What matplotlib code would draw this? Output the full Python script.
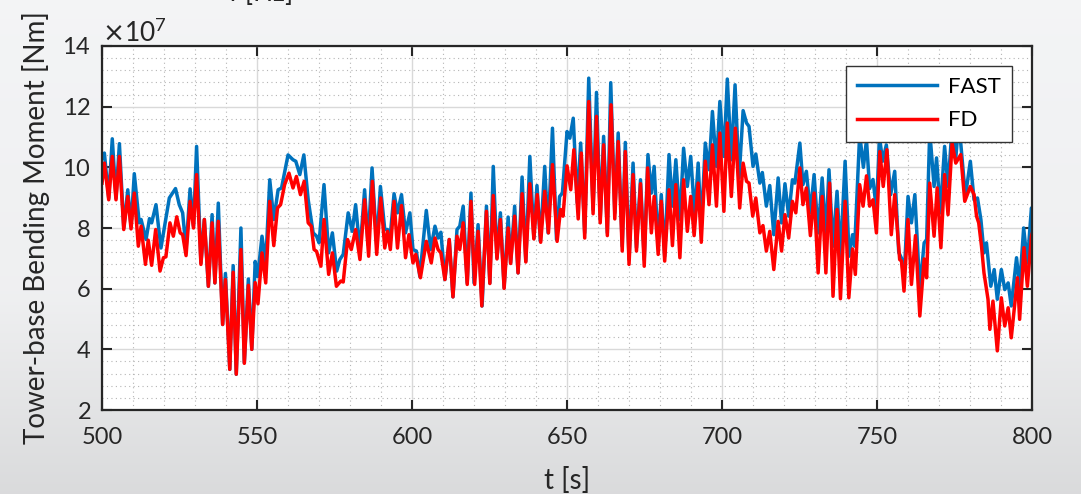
import numpy as np
import matplotlib
matplotlib.use("Agg")
import matplotlib.pyplot as plt
from matplotlib.ticker import AutoMinorLocator, ScalarFormatter

plt.rcParams["font.family"] = ["Lato", "DejaVu Sans"]

# Tower-base bending moment, values in 1e7 Nm (peaks/troughs)
fast_t = [500.0, 500.75, 502.15, 503.3, 504.5, 505.6, 507.0, 508.3, 509.35, 510.4,
          512.0, 512.6, 514.2, 515.3, 516.0, 517.4, 519.0, 521.7, 523.7, 524.9,
          526.0, 527.1, 528.4, 529.5, 530.5, 531.9, 533.0, 534.3, 535.5, 536.4,
          537.5, 538.9, 539.8, 541.2, 542.3, 543.3, 544.8, 545.9, 547.2, 548.3,
          549.4, 550.2, 551.6, 552.8, 554.1, 555.4, 556.8, 557.9, 560.0, 561.6,
          562.5, 563.8, 565.1, 566.5, 568.1, 569.2, 570.0, 571.6, 573.1, 574.3,
          575.7, 576.7, 577.8, 579.4, 580.7, 581.8, 583.2, 584.7, 585.8, 587.1,
          588.6, 589.8, 591.2, 592.1, 592.8, 594.2, 595.3, 596.6, 597.9, 599.3,
          600.3, 601.4, 602.5, 604.6, 606.0, 607.4, 608.4, 609.3, 610.6, 612.0,
          613.2, 614.5, 615.4, 616.5, 617.8, 619.0, 620.0, 621.3, 622.6, 624.0,
          625.1, 626.2, 627.4, 628.5, 629.7, 631.0, 631.8, 633.1, 634.2, 635.5,
          636.7, 638.0, 639.3, 640.3, 641.4, 642.8, 643.9, 645.3, 646.6, 647.6,
          648.5, 650.0, 650.9, 652.0, 653.3, 654.4, 655.7, 657.0, 658.4, 659.5,
          660.7, 661.8, 663.0, 664.1, 665.4, 666.5, 667.8, 668.8, 670.0, 671.3,
          672.4, 673.7, 674.9, 676.1, 677.2, 678.1, 679.4, 680.4, 681.5, 682.9,
          684.0, 685.1, 686.4, 687.6, 688.8, 689.9, 691.2, 692.3, 693.3, 694.6,
          695.8, 696.9, 698.2, 699.3, 700.6, 701.7, 703.0, 704.2, 705.5, 706.8,
          707.9, 708.7, 710.0, 710.9, 712.2, 713.0, 714.3, 715.4, 716.7, 718.1,
          719.2, 720.3, 721.5, 722.7, 723.5, 725.1, 726.1, 727.2, 728.5, 729.7,
          731.0, 732.3, 733.5, 734.5, 735.8, 737.1, 738.2, 739.7, 741.0, 742.1,
          742.8, 744.4, 745.6, 746.6, 747.6, 748.7, 749.8, 750.8, 751.8, 753.0,
          754.4, 755.7, 757.0, 757.9, 758.7, 760.0, 761.1, 762.2, 763.8, 765.2,
          766.0, 767.0, 768.4, 769.2, 770.4, 771.8, 772.9, 774.2, 775.4, 776.2,
          777.0, 778.5, 780.1, 781.3, 782.4, 783.5, 784.5, 785.3, 786.7, 787.8,
          788.8, 790.1, 791.2, 792.3, 793.3, 795.0, 796.0, 797.3, 798.5, 799.8,
          800.0]
fast_v = [10.3, 10.47, 8.99, 10.94, 8.99, 10.78, 8.0, 9.26, 8.06, 9.79,
          8.17, 8.28, 7.62, 8.31, 8.17, 8.77, 7.34, 8.99, 9.30, 8.77,
          8.50, 7.3, 9.29, 8.06, 10.69, 6.85, 8.28, 6.08, 8.44, 6.19,
          8.82, 4.82, 6.50, 3.34, 6.76, 3.18, 8.00, 3.56, 6.32, 4.00,
          6.9, 6.4, 7.73, 6.85, 9.59, 8.28, 9.26, 9.32, 10.41, 10.25,
          10.20, 9.76, 10.41, 8.93, 7.84, 7.73, 7.51, 9.43, 7.18, 7.84,
          6.58, 6.96, 7.13, 8.50, 7.89, 8.77, 7.23, 9.26, 7.45, 9.98,
          7.45, 9.37, 7.95, 7.95, 7.56, 9.13, 8.50, 9.10, 7.84, 8.50,
          7.29, 7.24, 6.41, 8.58, 7.29, 8.06, 7.67, 7.86, 6.30, 7.62,
          5.73, 7.95, 8.06, 8.72, 6.19, 9.15, 6.19, 8.11, 5.43, 8.72,
          6.19, 10.03, 7.02, 8.50, 6.03, 8.36, 6.85, 8.72, 6.52, 9.68,
          6.91, 10.36, 7.67, 9.40, 7.56, 10.03, 7.84, 11.29, 7.62, 9.04,
          9.15, 11.18, 10.96, 11.62, 8.83, 10.80, 7.84, 12.94, 8.61, 12.47,
          8.28, 11.02, 7.84, 12.79, 8.50, 11.13, 7.40, 10.82, 6.96, 10.14,
          7.35, 9.59, 6.96, 10.42, 9.15, 10.03, 7.40, 9.10, 7.07, 10.42,
          8.72, 10.25, 8.28, 10.63, 9.37, 10.36, 8.39, 10.14, 8.00, 10.80,
          9.92, 11.84, 10.03, 12.17, 10.36, 12.91, 10.25, 12.72, 9.65, 11.87,
          11.46, 11.35, 10.03, 10.44, 9.48, 9.83, 8.72, 9.40, 7.78, 9.65,
          8.17, 9.46, 8.39, 9.59, 9.48, 10.80, 9.43, 9.87, 8.50, 9.76,
          7.84, 9.65, 7.73, 9.92, 7.40, 9.21, 7.07, 10.20, 7.07, 7.78,
          7.40, 11.1, 10.0, 10.9, 9.3, 9.6, 8.6, 11.0, 10.2, 10.74,
          9.1, 9.87, 7.2, 7.0, 6.3, 9.04, 8.17, 9.10, 5.97, 7.51,
          7.62, 11.2, 9.37, 10.31, 8.50, 10.69, 9.37, 11.3, 10.3, 11.3,
          10.8, 9.04, 10.20, 8.93, 8.99, 8.28, 7.18, 7.51, 6.08, 6.63,
          5.65, 6.63, 5.97, 6.19, 5.43, 7.02, 6.08, 8.00, 6.85, 8.66,
          8.6]

fd_t = [500.0, 500.75, 502.15, 503.3, 504.5, 505.6, 507.0, 508.3, 509.35, 510.4,
        511.7, 512.6, 514.0, 514.9, 516.0, 517.3, 518.7, 519.8, 520.6, 521.9,
        523.0, 524.1, 525.2, 526.0, 527.1, 528.4, 529.5, 530.5, 531.9, 533.0,
        534.3, 535.5, 536.4, 537.5, 538.9, 539.8, 541.2, 542.3, 543.3, 544.8,
        545.9, 547.2, 548.3, 549.4, 550.3, 551.6, 552.8, 554.1, 555.4, 556.6,
        557.6, 558.9, 560.3, 561.6, 562.7, 564.0, 565.2, 566.5, 567.5, 568.4,
        569.2, 570.6, 571.6, 573.1, 574.3, 575.6, 577.0, 577.8, 579.2, 580.4,
        581.8, 583.2, 584.7, 586.0, 587.2, 588.6, 589.9, 591.2, 592.1, 593.0,
        594.2, 595.3, 596.6, 597.9, 599.0, 600.3, 601.2, 602.7, 604.6, 606.2,
        607.4, 608.4, 609.3, 610.6, 612.0, 613.2, 614.5, 615.4, 616.5, 617.8,
        619.0, 620.2, 621.3, 622.5, 624.0, 625.1, 626.2, 627.4, 628.5, 629.7,
        631.0, 631.8, 633.1, 634.2, 635.5, 636.7, 638.0, 639.3, 640.4, 641.5,
        642.8, 644.0, 645.3, 646.8, 647.9, 648.7, 650.0, 651.2, 652.2, 653.6,
        654.6, 655.7, 657.0, 658.4, 659.5, 660.7, 661.8, 663.0, 664.2, 665.4,
        666.5, 667.8, 668.8, 670.0, 671.3, 672.4, 673.7, 674.9, 676.0, 677.2,
        678.1, 679.4, 680.4, 681.5, 682.9, 684.0, 685.1, 686.4, 687.6, 688.8,
        689.9, 691.0, 692.3, 693.3, 694.6, 695.8, 696.9, 698.2, 699.3, 700.6,
        701.7, 703.0, 704.3, 705.7, 706.8, 707.9, 708.7, 709.9, 710.9, 712.2,
        713.2, 714.3, 715.4, 716.7, 718.1, 719.2, 720.3, 721.5, 722.7, 723.8,
        725.1, 726.1, 727.2, 728.5, 729.7, 731.0, 732.3, 733.5, 734.7, 735.8,
        737.1, 738.2, 739.7, 740.9, 742.1, 743.0, 744.4, 745.5, 746.6, 747.6,
        748.7, 749.8, 750.9, 752.0, 753.2, 754.6, 755.7, 757.3, 757.9, 758.7,
        760.0, 761.1, 762.4, 763.8, 765.2, 766.0, 767.0, 768.4, 769.4, 770.6,
        771.8, 772.9, 774.2, 775.4, 777.0, 778.3, 780.1, 781.3, 782.1, 782.8,
        783.7, 784.5, 785.8, 786.4, 787.4, 788.8, 790.1, 791.2, 792.3, 793.3,
        795.3, 796.0, 797.4, 798.5, 799.8, 800.0]
fd_v = [9.48, 10.14, 8.93, 10.36, 8.93, 10.36, 7.95, 9.04, 7.97, 9.15,
        7.40, 8.06, 6.80, 7.60, 6.77, 7.95, 6.58, 7.02, 7.05, 8.17,
        7.73, 8.37, 7.84, 7.78, 7.09, 8.88, 8.00, 9.76, 6.80, 8.28,
        6.08, 8.17, 6.19, 8.22, 4.82, 6.30, 3.34, 6.54, 3.18, 7.29,
        3.54, 6.11, 4.00, 6.2, 5.5, 7.18, 6.19, 8.88, 7.42, 8.66,
        8.77, 9.43, 9.81, 9.32, 9.70, 9.10, 9.54, 8.17, 8.06, 7.29,
        7.23, 6.74, 8.28, 6.47, 7.18, 6.08, 6.25, 6.22, 7.62, 7.29,
        7.95, 6.96, 8.93, 7.07, 9.54, 7.13, 8.99, 7.34, 7.89, 7.29,
        8.88, 7.34, 8.74, 7.02, 7.78, 6.85, 7.13, 6.36, 7.56, 6.85,
        7.67, 7.29, 7.18, 6.30, 7.62, 5.73, 7.73, 7.29, 8.17, 6.14,
        8.88, 6.14, 7.89, 5.43, 8.55, 6.17, 9.07, 6.98, 8.28, 6.01,
        8.00, 6.83, 8.39, 6.52, 9.13, 6.88, 9.46, 7.64, 9.10, 7.53,
        9.21, 7.84, 10.09, 7.56, 8.61, 8.39, 10.05, 9.26, 10.58, 8.30,
        10.47, 7.67, 12.17, 8.47, 11.68, 8.17, 10.74, 7.75, 12.06, 8.30,
        10.85, 7.24, 10.52, 6.80, 9.76, 7.24, 9.46, 6.74, 9.98, 7.84,
        9.04, 7.13, 8.88, 6.91, 9.26, 7.42, 9.43, 7.02, 9.59, 7.89,
        9.04, 7.75, 9.48, 7.53, 10.20, 8.77, 10.74, 8.72, 11.13, 8.55,
        11.46, 9.04, 11.29, 8.66, 10.14, 9.54, 9.48, 8.39, 8.99, 7.84,
        8.08, 7.24, 7.89, 6.63, 8.22, 7.24, 8.44, 7.67, 8.88, 8.50,
        9.98, 8.77, 9.32, 7.75, 9.15, 6.52, 9.04, 6.52, 9.48, 5.75,
        8.61, 5.67, 8.88, 5.70, 7.31, 6.47, 9.43, 8.72, 9.72, 8.72,
        8.93, 7.84, 10.52, 9.37, 10.58, 7.78, 9.10, 6.96, 6.91, 5.92,
        8.28, 6.14, 7.75, 5.10, 6.98, 6.36, 9.48, 7.73, 9.32, 7.35,
        9.76, 8.44, 10.80, 10.14, 10.42, 8.88, 9.37, 9.10, 8.39, 8.17,
        7.40, 6.52, 5.65, 4.66, 5.59, 3.95, 5.70, 4.77, 5.37, 4.38,
        6.36, 4.99, 7.35, 6.08, 7.73, 7.8]

x_ticks = [500, 550, 600, 650, 700, 750, 800]
y_ticks = [2, 4, 6, 8, 10, 12, 14]

fig = plt.figure(figsize=(10.81, 4.94), dpi=100)

# light grey photo-like backdrop
bg = fig.add_axes([0, 0, 1, 1], zorder=-10)
grad = np.linspace(0, 1, 256)[:, None]
shade = 0.955 - 0.03 * grad - 0.07 * np.clip((grad - 0.6) / 0.4, 0, 1)
bg.imshow(np.dstack([shade, shade + 0.003, shade + 0.008]), aspect="auto",
          extent=[0, 1, 0, 1], origin="upper")
bg.axis("off")

ax = fig.add_axes([0.0944, 0.170, 0.8603, 0.7369])
ax.set_facecolor("white")

ax.plot(fast_t, np.array(fast_v) * 1e7, color="#0072BD", lw=2.5, label="FAST",
        solid_joinstyle="round")
ax.plot(fd_t, np.array(fd_v) * 1e7, color="#FF0000", lw=2.5, label="FD",
        solid_joinstyle="round")

ax.set_xlim(500, 800)
ax.set_ylim(2e7, 14e7)
ax.set_xticks(x_ticks)
ax.set_yticks([v * 1e7 for v in y_ticks])
fmt = ScalarFormatter(useMathText=True)
fmt.set_powerlimits((7, 7))
ax.yaxis.set_major_formatter(fmt)
ax.yaxis.get_offset_text().set_fontsize(19)
ax.yaxis.get_offset_text().set_color("#262626")

ax.xaxis.set_minor_locator(AutoMinorLocator(5))
ax.yaxis.set_minor_locator(AutoMinorLocator(5))
ax.grid(which="major", color="#d9d9d9", lw=1.0, ls="-")
ax.grid(which="minor", color="#b5b5b5", lw=0.8, ls=(0, (1, 3)))
ax.set_axisbelow(True)

ax.tick_params(which="major", direction="in", length=7, width=1.5,
               top=True, right=True, labelsize=17, colors="#262626")
ax.tick_params(axis="x", which="major", pad=12)
ax.tick_params(axis="y", which="major", pad=8)
ax.tick_params(which="minor", length=0)
for s in ax.spines.values():
    s.set_linewidth(1.6)
    s.set_color("#262626")

ax.set_xlabel("t [s]", fontsize=20, color="#262626", labelpad=14)
ax.set_ylabel("Tower-base Bending Moment [Nm]", fontsize=20, color="#262626", labelpad=9)

leg = ax.legend(loc="upper right", bbox_to_anchor=(0.9785, 0.945), borderaxespad=0,
                fontsize=16, fancybox=False, edgecolor="#333333", framealpha=1,
                handlelength=3.6, handletextpad=0.5, borderpad=0.5, labelspacing=0.6)
leg.get_frame().set_linewidth(1.0)

# fragment of the label from the panel above, cut by the image edge
fig.text(0.212, 0.997, "f [Hz]", fontsize=19, color="#262626", va="baseline")

fig.savefig("out.png", dpi=100)
